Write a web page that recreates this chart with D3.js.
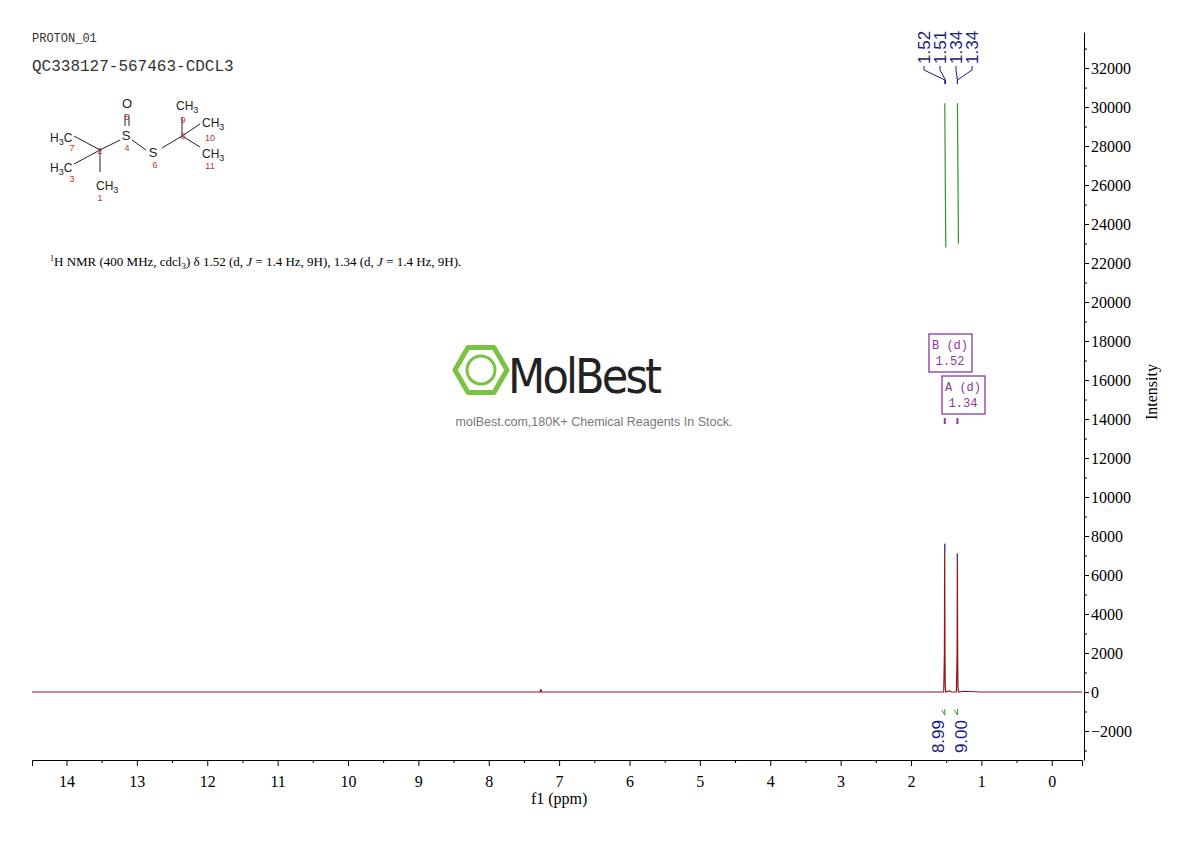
<!DOCTYPE html>
<html><head><meta charset="utf-8">
<script src="https://cdn.jsdelivr.net/npm/d3@7"></script>
<style>body{margin:0;background:#fff}svg{font-family:"Times New Roman","Liberation Serif",serif}</style>
</head><body><svg id="c" width="1190" height="841"></svg>
<script>
// ---- data ----
const xTicks = [14,13,12,11,10,9,8,7,6,5,4,3,2,1,0];
const yTicks = [-2000,0,2000,4000,6000,8000,10000,12000,14000,16000,18000,20000,22000,24000,26000,28000,30000,32000];
const specPpm = [14.49,9.0,7.27,7.26,7.25,5.0,2.0,1.60,1.535,1.525,1.521,1.517,1.513,1.505,1.45,1.42,1.355,1.345,1.341,1.337,1.333,1.325,1.25,1.0,0.0,-0.43];
const specInt = [0,0,0,150,0,0,0,0,0,2000,7600,2000,300,0,60,0,0,2000,7100,2000,300,0,40,0,0,0];
const peakLabels = ["1.52","1.51","1.34","1.34"];
const peakLabelPpm = [1.52,1.51,1.34,1.34];
const integPpm = [1.52,1.34];
const integVals = ["8.99","9.00"];
const integTop = [30200,30200];
const integBot = [22800,23000];
const multiplets = [{name:"B (d)",shift:"1.52",ppm:1.52},{name:"A (d)",shift:"1.34",ppm:1.34}];

const svg = d3.select("#c");
const x = d3.scaleLinear().domain([14.49,-0.43]).range([32,1082]);
const y = d3.scaleLinear().domain([-3487,33850]).range([760,32]);

// x axis
const xa = svg.append("g").attr("transform","translate(0,760)")
  .call(d3.axisBottom(x).tickValues(xTicks).tickFormat(d3.format("d")).tickSizeOuter(0).tickSize(6));
xa.select(".domain").attr("stroke","#000");
xa.selectAll("text").attr("font-size",16).attr("font-family","Times New Roman, Liberation Serif, serif").attr("dy","1.1em");
svg.append("g").attr("transform","translate(0,760)")
  .call(d3.axisBottom(x).tickValues(d3.range(-0.5,14.5,0.5).filter(v=>!xTicks.includes(v)&&v>=-0.4)).tickFormat("").tickSize(3))
  .select(".domain").remove();
svg.append("text").attr("x",x(7)).attr("y",804).attr("text-anchor","middle").attr("font-size",16).text("f1 (ppm)");

// y axis
const ya = svg.append("g").attr("transform","translate(1084,0)")
  .call(d3.axisRight(y).tickValues(yTicks).tickFormat(d3.format("d")).tickSize(5).tickSizeOuter(0));
ya.selectAll("text").attr("font-size",16).attr("font-family","Times New Roman, Liberation Serif, serif").attr("x",7);
svg.append("g").attr("transform","translate(1084,0)")
  .call(d3.axisRight(y).tickValues(d3.range(-3000,33001,1000).filter(v=>v%2000!==0)).tickFormat("").tickSize(3))
  .select(".domain").remove();
svg.append("text").attr("transform","translate(1157,392) rotate(-90)").attr("text-anchor","middle").attr("font-size",16).text("Intensity");

// spectrum
const pts = specPpm.map((p,i)=>[p,specInt[i]]);
svg.append("path").datum(pts).attr("fill","none").attr("stroke","#8b1a1a").attr("stroke-width",1.2)
  .attr("d",d3.line().x(d=>x(d[0])).y(d=>y(d[1])));
[[1.521,7600],[1.341,7100]].forEach(d=>{
  svg.append("line").attr("x1",x(d[0])).attr("x2",x(d[0])).attr("y1",y(d[1])).attr("y2",y(d[1])+8).attr("stroke","#3a4fb0").attr("stroke-width",1.2);
});

// integrals
const integOff=[-7,4];
integPpm.forEach((p,i)=>{
  svg.append("line").attr("x1",x(p)).attr("x2",x(p)+1).attr("y1",y(integTop[i])).attr("y2",y(integBot[i])).attr("stroke","#2e9a2e").attr("stroke-width",1.2);
  svg.append("path").attr("d",`M${x(p)-3},${710} l3,5 l0,-6`).attr("fill","none").attr("stroke","#2e9a2e");
  svg.append("text").attr("transform",`translate(${x(p)+integOff[i]+6},${720}) rotate(-90)`).attr("text-anchor","end")
    .attr("font-family","Liberation Sans, Arial, sans-serif").attr("font-size",17).attr("fill","#1a1a80").text(integVals[i]);
});

// peak labels
const lx0 = 924, dl = 16;
peakLabels.forEach((t,i)=>{
  const lx = lx0+i*dl;
  svg.append("text").attr("transform",`translate(${lx+6},${64}) rotate(-90)`).attr("font-family","Liberation Sans, Arial, sans-serif")
    .attr("font-size",17).attr("fill","#1a1a80").text(t);
  const px = x(peakLabelPpm[i]);
  svg.append("path").attr("d",`M${lx},${66} L${lx},${70} L${px},${80} L${px},${84}`).attr("fill","none").attr("stroke","#1a1a80").attr("stroke-width",1);
});

// multiplet boxes
const boxes=[{x:929,y:334},{x:942,y:376}];
multiplets.forEach((m,i)=>{
  const b=boxes[i];
  svg.append("rect").attr("x",b.x).attr("y",b.y).attr("width",43).attr("height",38).attr("fill","none").attr("stroke","#8a3a9a").attr("stroke-width",1.3);
  svg.append("text").attr("x",b.x+21).attr("y",b.y+15).attr("text-anchor","middle").attr("font-size",12).attr("fill","#8a3a9a").attr("font-family","Liberation Mono, monospace").text(m.name);
  svg.append("text").attr("x",b.x+21).attr("y",b.y+31).attr("text-anchor","middle").attr("font-size",12).attr("fill","#8a3a9a").attr("font-family","Liberation Mono, monospace").text(m.shift);
  svg.append("line").attr("x1",x(m.ppm)).attr("x2",x(m.ppm)).attr("y1",418).attr("y2",424).attr("stroke","#8a3a9a").attr("stroke-width",2);
});

// header text
svg.append("text").attr("x",32).attr("y",42).attr("font-size",12).attr("font-family","Liberation Mono, monospace").attr("fill","#333").text("PROTON_01");
svg.append("text").attr("x",32).attr("y",71).attr("font-size",16).attr("font-family","Liberation Mono, monospace").attr("fill","#333").text("QC338127-567463-CDCL3");
const nmr = svg.append("text").attr("x",50).attr("y",266).attr("font-size",13);
nmr.append("tspan").attr("font-size",8).attr("dy",-5).text("1");
nmr.append("tspan").attr("dy",5).text("H NMR (400 MHz, cdcl");
nmr.append("tspan").attr("font-size",9).attr("dy",3).text("3");
nmr.append("tspan").attr("dy",-3).text(") δ 1.52 (d, ");
nmr.append("tspan").attr("font-style","italic").text("J");
nmr.append("tspan").text(" = 1.4 Hz, 9H), 1.34 (d, ");
nmr.append("tspan").attr("font-style","italic").text("J");
nmr.append("tspan").text(" = 1.4 Hz, 9H).");

// structure
const S = svg.append("g").attr("font-family","Liberation Sans, Arial, sans-serif");
const bonds=[[74,136,100,150],[74,164,100,150],[100,150,100,172],[100,150,120,140],[132,140,146,150],[162,148,182,136],[182,136,182,117],[182,136,200,124],[182,136,200,147]];
bonds.forEach(b=>S.append("line").attr("x1",b[0]).attr("y1",b[1]).attr("x2",b[2]).attr("y2",b[3]).attr("stroke","#222"));
S.append("line").attr("x1",125).attr("y1",115).attr("x2",125).attr("y2",126).attr("stroke","#222");
S.append("line").attr("x1",129).attr("y1",115).attr("x2",129).attr("y2",126).attr("stroke","#222");
const sub = (t,xx,yy,sz,anchor)=>{const e=S.append("text").attr("x",xx).attr("y",yy).attr("font-size",sz).attr("text-anchor",anchor||"start").attr("fill","#222");return e;};
sub("O",127,108,13,"middle").text("O");
sub("S",126,140,13,"middle").text("S");
sub("S",153,157,13,"middle").text("S");
function ch3(xx,yy){const e=sub("",xx,yy,12);e.append("tspan").text("CH");e.append("tspan").attr("font-size",9).attr("dy",3).text("3");}
function h3c(xx,yy){const e=sub("",xx,yy,12);e.append("tspan").text("H");e.append("tspan").attr("font-size",9).attr("dy",3).text("3");e.append("tspan").attr("dy",-3).text("C");}
h3c(50,142); h3c(50,172); ch3(96,190); ch3(176,110); ch3(202,127); ch3(202,158);
const nums=[["5",127,120],["4",127,151],["6",155,168],["7",72,151],["2",100,154],["3",72,182],["1",100,201],["9",183,123],["8",183,139],["10",210,141],["11",210,169]];
nums.forEach(n=>S.append("text").attr("x",n[1]).attr("y",n[2]).attr("font-size",9).attr("text-anchor","middle").attr("fill","#c03030").text(n[0]));

// watermark
const hx=481,hy=370,hr=26;
const hex=d3.range(6).map(k=>[hx+hr*Math.cos(Math.PI/3*k),hy+hr*Math.sin(Math.PI/3*k)]);
svg.append("polygon").attr("points",hex.map(p=>p.join(",")).join(" ")).attr("fill","none").attr("stroke","#7cc242").attr("stroke-width",5).attr("stroke-linejoin","round");
svg.append("circle").attr("cx",hx).attr("cy",hy).attr("r",14).attr("fill","none").attr("stroke","#7cc242").attr("stroke-width",3);
svg.append("text").attr("x",508).attr("y",393).attr("font-family","DejaVu Sans Condensed, Liberation Sans Narrow, sans-serif").attr("font-size",48).attr("textLength",154).attr("fill","#222").text("MolBest");
svg.append("text").attr("x",594).attr("y",426).attr("text-anchor","middle").attr("font-family","Liberation Sans, Arial, sans-serif").attr("font-size",12.5).attr("fill","#777").text("molBest.com,180K+ Chemical Reagents In Stock.");
</script></body></html>
